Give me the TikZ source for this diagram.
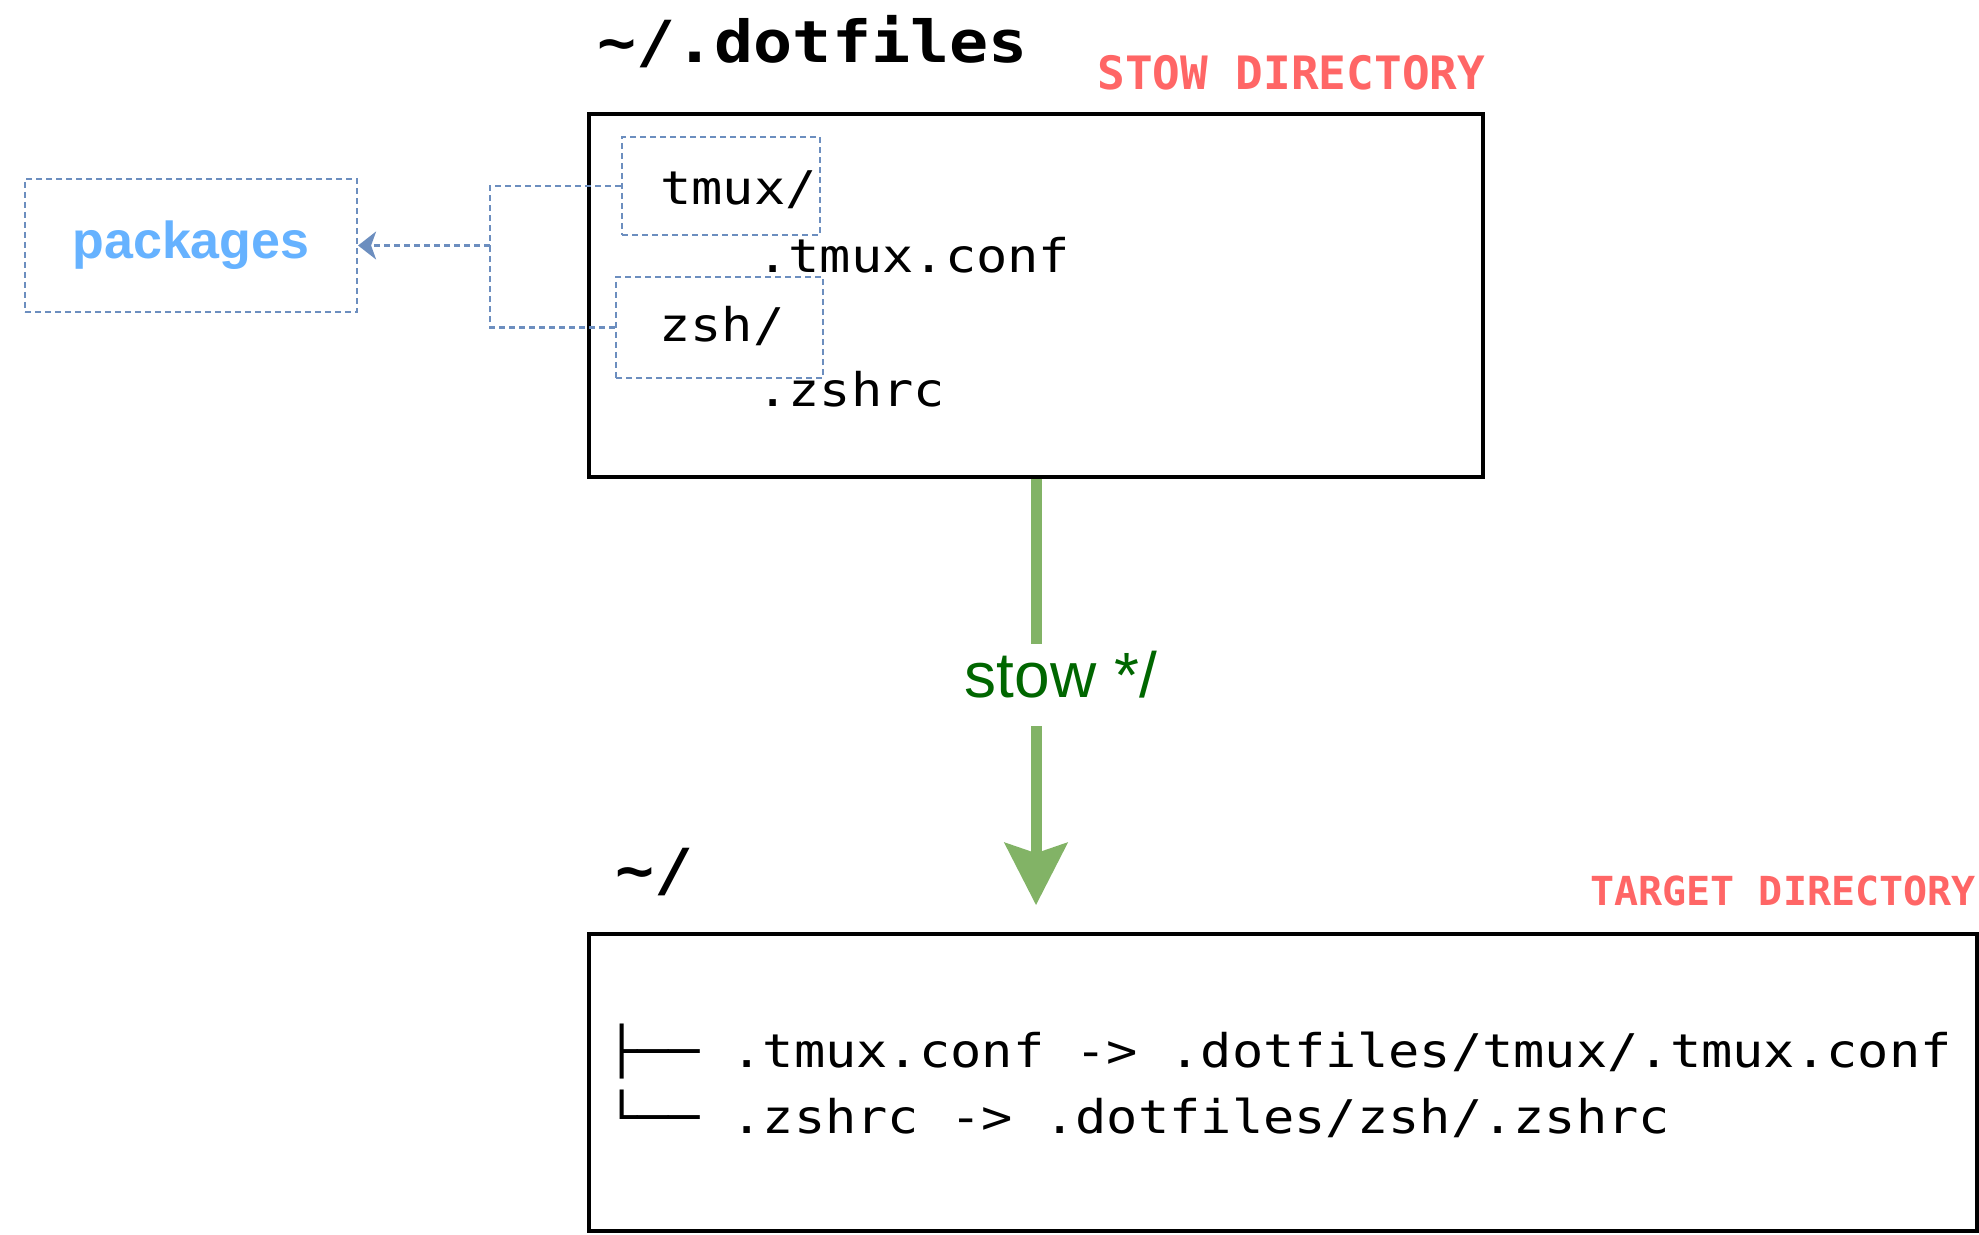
\documentclass[tikz,border=0pt]{standalone}
\usepackage{fontspec}
\setsansfont{Liberation Sans}
\newfontfamily\codefont[FakeStretch=1.12]{DejaVu Sans Mono}
\newfontfamily\tagfont{DejaVu Sans Mono}
\usetikzlibrary{arrows.meta,positioning,calc}
\definecolor{stowred}{HTML}{FF6666}
\definecolor{pkgblue}{HTML}{6C8EBF}
\definecolor{pkgtext}{HTML}{66B2FF}
\definecolor{stowgreen}{HTML}{82B366}
\definecolor{stowtext}{HTML}{006600}

\begin{document}
\begin{tikzpicture}[x=0.5pt, y=-0.5pt, >=Stealth]
	\tikzstyle{dirbox}=[draw=black, line width=1.8pt, inner sep=0pt]
	\tikzstyle{pkgbox}=[draw=pkgblue, line width=1.1pt, dash pattern=on 3pt off 2pt, inner sep=0pt]
	\tikzstyle{pkgline}=[draw=pkgblue, line width=1.1pt, dash pattern=on 3pt off 2pt]
	\tikzstyle{stowline}=[draw=stowgreen, line width=5.5pt, -{Stealth[length=31pt,width=31pt,inset=5pt]}, shorten >=13.5pt]
	\tikzstyle{stowlabel}=[text=stowtext, font=\sffamily\fontsize{32}{38}\selectfont, fill=white, inner sep=0pt, text height=26.5pt, text depth=14.5pt]
	\tikzstyle{code}=[font=\codefont\fontsize{23.2}{28}\selectfont, anchor=base west, inner sep=0pt]
	\tikzstyle{title}=[font=\codefont\bfseries\fontsize{29}{34}\selectfont, anchor=base west, inner sep=0pt]
	\tikzstyle{tag}=[text=stowred, anchor=base west, inner sep=0pt]
	\useasboundingbox (0,0) rectangle (1979,1235);

	% stow directory
	\node[dirbox, minimum width=447pt, minimum height=181.5pt] (stowdir) at (1036,295.5) {};
	\node[title] (stowtitle) at (597,63) {\textasciitilde/.dotfiles};
	\node[tag, font=\tagfont\bfseries\fontsize{23}{28}\selectfont] (stowtag) at (1097,90) {STOW DIRECTORY};
	\node[pkgbox, minimum width=99pt, minimum height=49pt] (tmuxbox) at (721,186) {};
	\node[pkgbox, minimum width=103.5pt, minimum height=50.5pt] (zshbox) at (719.5,327.5) {};
	\node[code] (tmux) at (660,205) {tmux/};
	\node[code] (tmuxconf) at (757,273) {.tmux.conf};
	\node[code] (zsh) at (659,342) {zsh/};
	\node[code] (zshrc) at (757,407) {.zshrc};

	% packages
	\node[pkgbox, minimum width=166pt, minimum height=66.5pt, text=pkgtext, font=\sffamily\bfseries\fontsize{26}{30}\selectfont] (packages) at (191,245.5) {packages};
	\coordinate (elbow) at (490,245.5);
	\draw[pkgline] (tmuxbox.west) -| (elbow);
	\draw[pkgline] (zshbox.west) -| (elbow);
	\draw[pkgline, -{Stealth[length=9pt,width=14pt,inset=2.5pt]}] (elbow) -- (packages.east);

	% target directory
	\node[dirbox, minimum width=694pt, minimum height=148.5pt] (targetdir) at (1283,1082.5) {};
	\node[title] (targettitle) at (615,890) {\textasciitilde/};
	\node[tag, font=\tagfont\bfseries\fontsize{20}{24}\selectfont] (targettag) at (1590,905) {TARGET DIRECTORY};
	\node[code] (treetmux) at (606,1067) {├── .tmux.conf -> .dotfiles/tmux/.tmux.conf};
	\node[code] (treezsh) at (606,1133) {└── .zshrc -> .dotfiles/zsh/.zshrc};

	% stow */
	\draw[stowline] (stowdir.south) -- (stowdir.south |- targetdir.north)
		node[stowlabel, pos=0.455, xshift=12.5pt] (stowcmd) {stow */};
\end{tikzpicture}
\end{document}
